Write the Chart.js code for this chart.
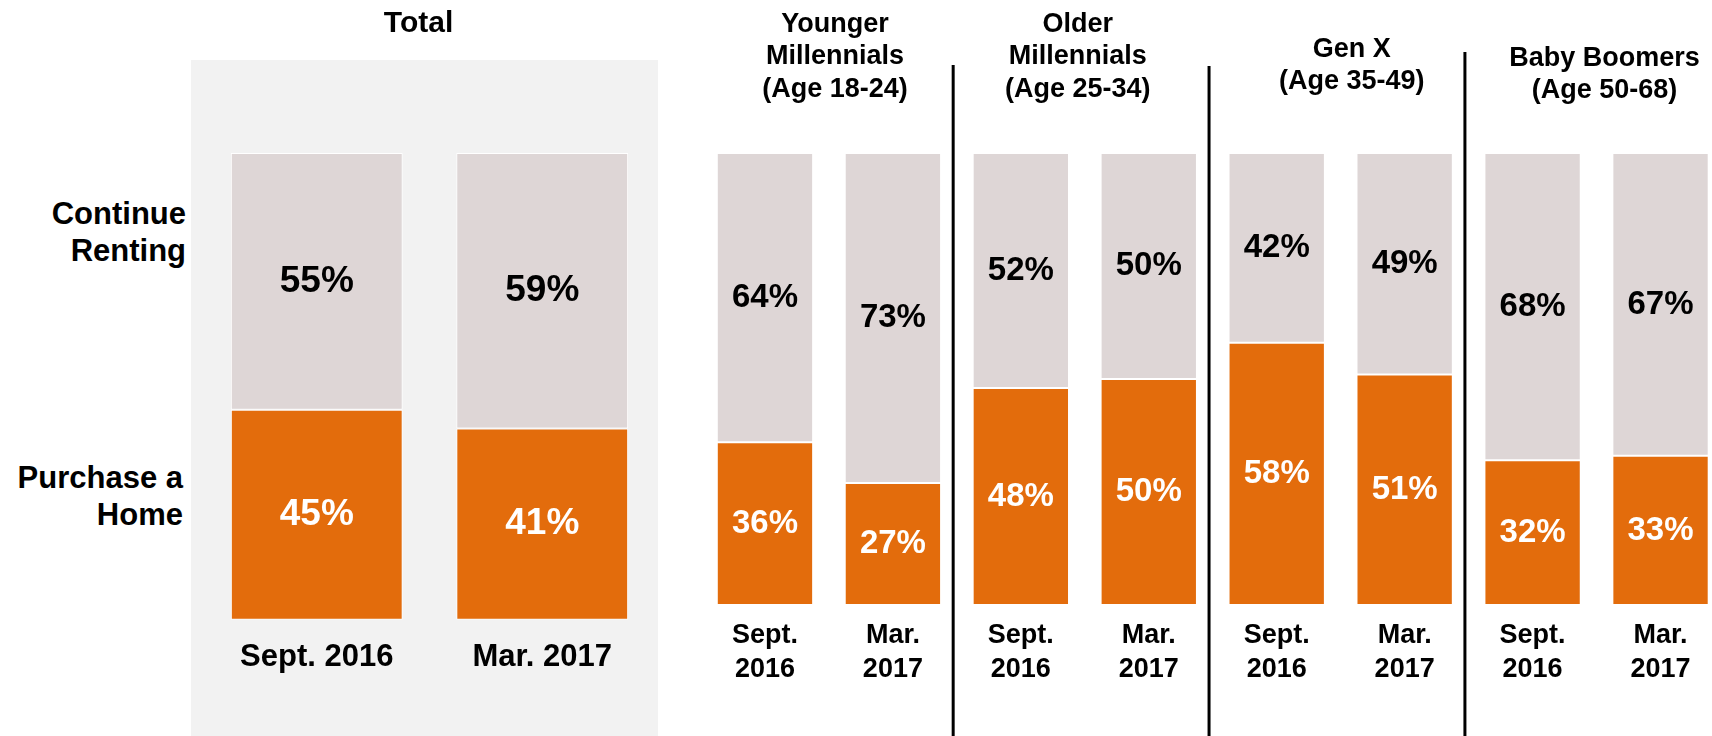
<!DOCTYPE html>
<html>
<head>
<meta charset="utf-8">
<script src="https://cdn.jsdelivr.net/npm/chart.js@4"></script>
<style>
html,body{margin:0;padding:0;width:1712px;height:736px;overflow:hidden;background:#ffffff;font-family:"Liberation Sans",Arial,sans-serif;}
#bg{position:absolute;left:191px;top:60px;width:467px;height:676px;background:#F2F2F2;}
#cTotal{position:absolute;left:191px;top:0;}
#cGen{position:absolute;left:690px;top:0;}
.rowlab{position:absolute;text-align:right;font-weight:bold;font-size:31px;line-height:37px;color:#000;white-space:nowrap;}
</style>
</head>
<body>
<div id="bg"></div>
<div class="rowlab" style="right:1526px;top:195px;">Continue<br>Renting</div>
<div class="rowlab" style="right:1529px;top:459px;">Purchase a<br>Home</div>
<canvas id="cTotal" width="467" height="736"></canvas>
<canvas id="cGen" width="1040" height="736"></canvas>
<script>
// ---- data ----
const totalTitle = 'Total';
const totalPeriods = ['Sept. 2016', 'Mar. 2017'];
const totalPurchase = [45, 41];
const totalRent = [55, 59];

const genGroups = [
  ['Younger', 'Millennials', '(Age 18-24)'],
  ['Older', 'Millennials', '(Age 25-34)'],
  ['Gen X', '(Age 35-49)'],
  ['Baby Boomers', '(Age 50-68)']
];
const genPeriods = [['Sept.', '2016'], ['Mar.', '2017']];
const genPurchase = [36, 27, 48, 50, 58, 51, 32, 33];
const genRent = [64, 73, 52, 50, 42, 49, 68, 67];
const seriesNames = ['Purchase a Home', 'Continue Renting'];

// ---- style ----
const FONT = '"Liberation Sans", Arial, sans-serif';
const ORANGE = '#E36C0C';
const GRAY = '#DED6D6';
const totalTitleShift = -11;
const titleShiftX = [6, -7, 11, 8];
const titleLastLineY = [89.5, 89.5, 82, 91];
const dividerTops = [65, 66, 52];
const dividerShift = -3.7;

function valueLabels(fontSize) {
  return {
    id: 'valueLabels',
    afterDatasetsDraw(chart) {
      const ctx = chart.ctx;
      ctx.save();
      ctx.font = 'bold ' + fontSize + 'px ' + FONT;
      ctx.textAlign = 'center';
      ctx.textBaseline = 'middle';
      chart.data.datasets.forEach((ds, i) => {
        const meta = chart.getDatasetMeta(i);
        ctx.fillStyle = i === 0 ? '#FFFFFF' : '#000000';
        meta.data.forEach((bar, j) => {
          const y = (bar.y + bar.base) / 2;
          ctx.fillText(ds.data[j] + '%', bar.x, y);
        });
      });
      ctx.restore();
    }
  };
}

function makeDatasets(purchase, rent) {
  return [
    { label: seriesNames[0], data: purchase, backgroundColor: ORANGE, borderColor: '#FFFFFF', borderWidth: 1, borderSkipped: false },
    { label: seriesNames[1], data: rent, backgroundColor: GRAY, borderColor: '#FFFFFF', borderWidth: 1, borderSkipped: false }
  ];
}

// ---- Total chart ----
const totalTitlePlugin = {
  id: 'totalTitle',
  afterDraw(chart) {
    const ctx = chart.ctx;
    const a = chart.chartArea;
    ctx.save();
    ctx.fillStyle = '#000';
    ctx.font = 'bold 30px ' + FONT;
    ctx.textAlign = 'center';
    ctx.textBaseline = 'middle';
    ctx.fillText(totalTitle, (a.left + a.right) / 2 + totalTitleShift, 24);
    ctx.restore();
  }
};

new Chart(document.getElementById('cTotal'), {
  type: 'bar',
  data: { labels: totalPeriods, datasets: makeDatasets(totalPurchase, totalRent) },
  options: {
    responsive: false,
    animation: false,
    events: [],
    layout: { padding: { left: 13, right: 3, top: 153, bottom: 41 } },
    datasets: { bar: { categoryPercentage: 1, barPercentage: 0.762 } },
    plugins: { legend: { display: false }, tooltip: { enabled: false }, title: { display: false } },
    scales: {
      x: {
        stacked: true,
        grid: { display: false, drawTicks: false },
        border: { display: false },
        ticks: { color: '#000', autoSkip: false, maxRotation: 0, padding: 19,
                 font: { family: FONT, size: 31, weight: 'bold', lineHeight: 1.2 } }
      },
      y: { stacked: true, display: false, min: 0, max: 100 }
    }
  },
  plugins: [valueLabels(37), totalTitlePlugin]
});

// ---- Generations chart ----
const genLabels = [];
genGroups.forEach(() => genPeriods.forEach(p => genLabels.push(p)));

const groupDecor = {
  id: 'groupDecor',
  afterDraw(chart) {
    const ctx = chart.ctx;
    const xs = chart.scales.x;
    ctx.save();
    ctx.fillStyle = '#000';
    ctx.font = 'bold 27px ' + FONT;
    ctx.textAlign = 'center';
    ctx.textBaseline = 'middle';
    genGroups.forEach((lines, g) => {
      const cx = (xs.getPixelForValue(2 * g) + xs.getPixelForValue(2 * g + 1)) / 2 + titleShiftX[g];
      lines.forEach((t, i) => {
        const y = titleLastLineY[g] - (lines.length - 1 - i) * 32.5;
        ctx.fillText(t, cx, y);
      });
    });
    ctx.strokeStyle = '#000';
    ctx.lineWidth = 3;
    for (let g = 1; g < genGroups.length; g++) {
      const xb = (xs.getPixelForValue(2 * g - 1) + xs.getPixelForValue(2 * g)) / 2 + dividerShift;
      ctx.beginPath();
      ctx.moveTo(xb, dividerTops[g - 1]);
      ctx.lineTo(xb, chart.height);
      ctx.stroke();
    }
    ctx.restore();
  }
};

new Chart(document.getElementById('cGen'), {
  type: 'bar',
  data: { labels: genLabels, datasets: makeDatasets(genPurchase, genRent) },
  options: {
    responsive: false,
    animation: false,
    events: [],
    layout: { padding: { left: 11, right: 5.5, top: 153, bottom: 35 } },
    datasets: { bar: { categoryPercentage: 1, barPercentage: 0.753 } },
    plugins: { legend: { display: false }, tooltip: { enabled: false }, title: { display: false } },
    scales: {
      x: {
        stacked: true,
        grid: { display: false, drawTicks: false },
        border: { display: false },
        ticks: { color: '#000', autoSkip: false, maxRotation: 0, padding: 14,
                 font: { family: FONT, size: 27, weight: 'bold', lineHeight: 34 / 27 } }
      },
      y: { stacked: true, display: false, min: 0, max: 100 }
    }
  },
  plugins: [valueLabels(33), groupDecor]
});
</script>
</body>
</html>
